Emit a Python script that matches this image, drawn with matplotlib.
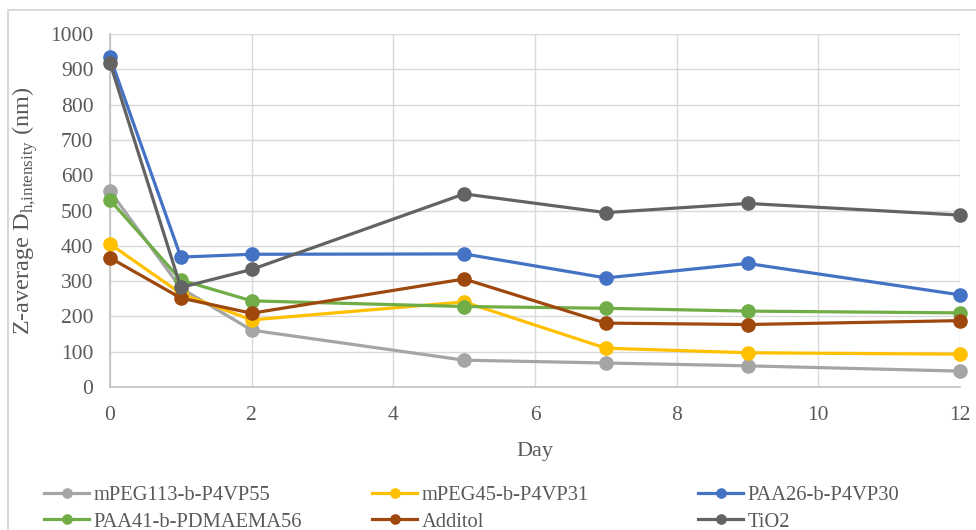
import matplotlib
matplotlib.use("Agg")
import matplotlib.pyplot as plt
from matplotlib.patches import Rectangle

plt.rcParams['font.family'] = ['Liberation Serif', 'DejaVu Serif']
plt.rcParams['mathtext.fontset'] = 'custom'
plt.rcParams['mathtext.rm'] = 'Liberation Serif'

days = [0, 1, 2, 5, 7, 9, 12]

mpeg113 = [555, 280, 161, 76, 68, 60, 45]
mpeg45 = [405, 265, 190, 241, 110, 97, 93]
paa26 = [935, 368, 376, 377, 309, 350, 261]
paa41 = [530, 303, 244, 228, 223, 215, 210]
additol = [366, 252, 209, 306, 181, 177, 188]
tio2 = [918, 282, 333, 547, 494, 520, 487]

series = [
    ("mPEG113-b-P4VP55", mpeg113, "#A5A5A5"),
    ("mPEG45-b-P4VP31", mpeg45, "#FFC000"),
    ("PAA26-b-P4VP30", paa26, "#4472C4"),
    ("PAA41-b-PDMAEMA56", paa41, "#70AD47"),
    ("Additol", additol, "#9E480E"),
    ("TiO2", tio2, "#636363"),
]

W, H = 976, 530
fig = plt.figure(figsize=(W / 100, H / 100), dpi=100)
fig.patches.append(Rectangle((8 / W, -0.05), 1.1, 1 - 10 / H + 0.05,
                             transform=fig.transFigure, fill=False,
                             edgecolor="#D9D9D9", linewidth=1.5))
ax = fig.add_axes([110 / W, 143 / H, 850 / W, 353 / H])

handles = {}
for name, vals, color in series:
    (h,) = ax.plot(days, vals, color=color, linewidth=2.3, marker='o',
                   markersize=9.5, label=name, clip_on=False, zorder=3)
    handles[name] = h

ax.set_xlim(0, 12)
ax.set_ylim(0, 1000)
ax.set_xticks(range(0, 13, 2))
ax.set_yticks(range(0, 1001, 100))
ax.grid(True, color="#D9D9D9", linewidth=1)
ax.set_axisbelow(True)
for s in ("top", "right"):
    ax.spines[s].set_visible(False)
for s in ("left", "bottom"):
    ax.spines[s].set_color("#BFBFBF")
    ax.spines[s].set_linewidth(1.2)
ax.tick_params(length=0, labelsize=15.5, colors="#595959")
ax.tick_params(axis='x', pad=14)
ax.tick_params(axis='y', pad=12)

ax.set_xlabel("Day", fontsize=16, color="#595959", labelpad=12)
ax.set_ylabel(r"Z-average D$_{\mathregular{h{,}intensity}}$ (nm)", fontsize=17.5,
              color="#595959")
ax.yaxis.set_label_coords(-0.082, 0.5)

# legend: three columns of two entries each, evenly spread across the width
columns = [("mPEG113-b-P4VP55", "PAA41-b-PDMAEMA56"),
           ("mPEG45-b-P4VP31", "Additol"),
           ("PAA26-b-P4VP30", "TiO2")]
col_x = [44, 372, 698]
for names, x0 in zip(columns, col_x):
    leg = fig.legend([handles[n] for n in names], names, ncol=1,
                     loc="upper left", bbox_to_anchor=(x0 / W, 1 - 486 / H),
                     frameon=False, fontsize=14.8, handlelength=2.2,
                     labelspacing=0.33, handletextpad=0.2, borderpad=0,
                     borderaxespad=0, markerscale=0.7, labelcolor="#595959")

fig.savefig("out.png", dpi=100)
